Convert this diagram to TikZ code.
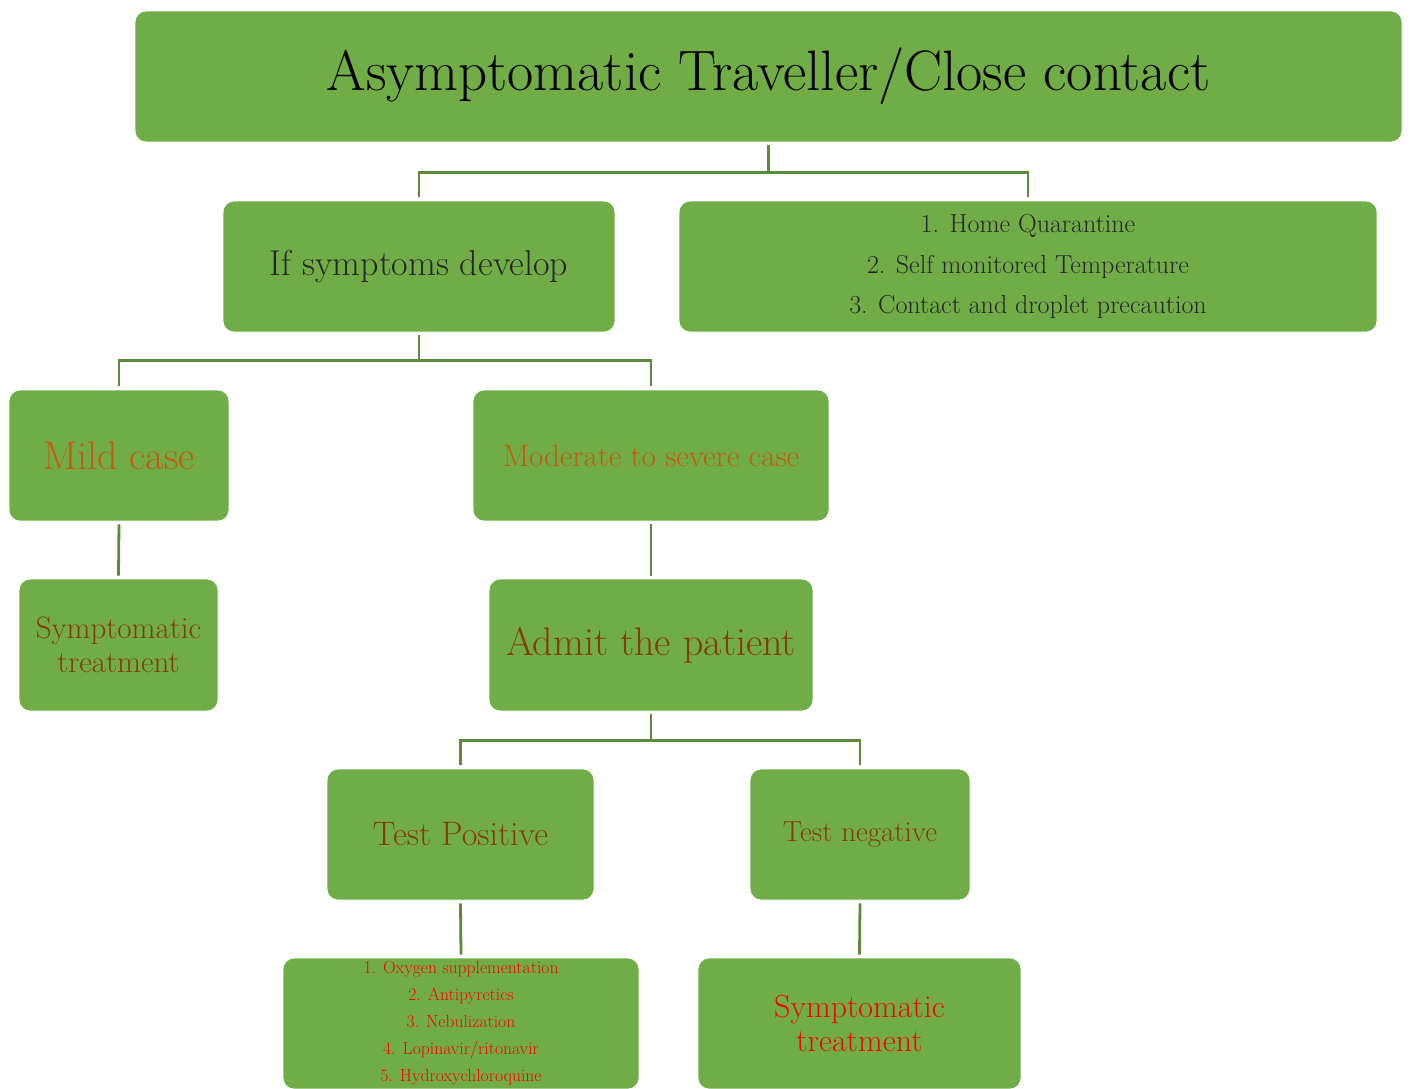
\documentclass[tikz,border=0pt]{standalone}
\usetikzlibrary{calc}
\definecolor{boxgreen}{HTML}{70AD47}
\definecolor{linegreen}{HTML}{5A8A3A}
\definecolor{orangetxt}{HTML}{C55A11}
\definecolor{browntxt}{HTML}{843C0C}
\definecolor{darktxt}{HTML}{262626}
\definecolor{redtxt}{HTML}{FF0000}
\tikzset{
  box/.style={draw=white, line width=0.8pt, fill=boxgreen, rounded corners=11pt, align=center, inner sep=0pt},
  conn/.style={draw=linegreen, line width=2.8pt}
}
\newcommand{\fs}[2]{\fontsize{#1}{#2}\selectfont}
\begin{document}
\begin{tikzpicture}[x=1pt,y=-1pt]
\useasboundingbox (0,0) rectangle (1410,1088);
\node[box, minimum width=1267pt, minimum height=131pt, text=black, font=\fs{57}{64}] (top) at (768.5,76.5) {Asymptomatic Traveller/Close contact};
\node[box, minimum width=392pt, minimum height=131pt, text=darktxt, font=\fs{36}{40}] (ifs) at (419,266.5) {If symptoms develop};
\node[box, minimum width=698pt, minimum height=131pt, text=darktxt, font=\fs{26}{40.5}] (lst) at (1028,266.5) {1. Home Quarantine\\2. Self monitored Temperature\\3. Contact and droplet precaution};
\node[box, minimum width=220pt, minimum height=131pt, text=orangetxt, font=\fs{40}{44}] (mild) at (119,455.5) {Mild case};
\node[box, minimum width=356pt, minimum height=131pt, text=orangetxt, font=\fs{31}{36}] (mod) at (651,455.5) {Moderate to severe case};
\node[box, minimum width=199pt, minimum height=132pt, text=browntxt, font=\fs{31}{34}] (sym1) at (118.5,645) {Symptomatic\\treatment};
\node[box, minimum width=324pt, minimum height=132pt, text=browntxt, font=\fs{40}{44}] (admit) at (651,645) {Admit the patient};
\node[box, minimum width=267pt, minimum height=131pt, text=browntxt, font=\fs{34}{38}] (pos) at (460.5,834.5) {Test Positive};
\node[box, minimum width=220pt, minimum height=131pt, text=browntxt, font=\fs{29}{32}] (neg) at (860,834.5) {Test negative};
\node[box, minimum width=356pt, minimum height=131pt, text=redtxt, font=\fs{17.6}{27}] (blist) at (461,1023.5) {1. Oxygen supplementation\\2. Antipyretics\\3. Nebulization\\4. Lopinavir/ritonavir\\5. Hydroxychloroquine};
\node[box, minimum width=323pt, minimum height=131pt, text=redtxt, font=\fs{32}{34}] (bsym) at (859.5,1023.5) {Symptomatic\\treatment};
% connectors
\draw[conn] ([yshift=-3pt]top.south) -- ([yshift=-30pt]top.south) -| ([yshift=4pt]ifs.north);
\draw[conn] ([yshift=-30pt]top.south) -| ([yshift=4pt]lst.north);
\draw[conn] ([yshift=-3pt]ifs.south) -- ([yshift=-28pt]ifs.south) -| ([yshift=4pt]mild.north);
\draw[conn] ([yshift=-28pt]ifs.south) -| ([yshift=4pt]mod.north);
\draw[conn] ([yshift=-3pt]mild.south) -- ([yshift=3pt]sym1.north);
\draw[conn] ([yshift=-3pt]mod.south) -- ([yshift=3pt]admit.north);
\draw[conn] ([yshift=-3pt]admit.south) -- ([yshift=-29pt]admit.south) -| ([yshift=4pt]pos.north);
\draw[conn] ([yshift=-29pt]admit.south) -| ([yshift=4pt]neg.north);
\draw[conn] ([yshift=-3pt]pos.south) -- ([yshift=3pt]blist.north);
\draw[conn] ([yshift=-3pt]neg.south) -- ([yshift=3pt]bsym.north);
\end{tikzpicture}
\end{document}
